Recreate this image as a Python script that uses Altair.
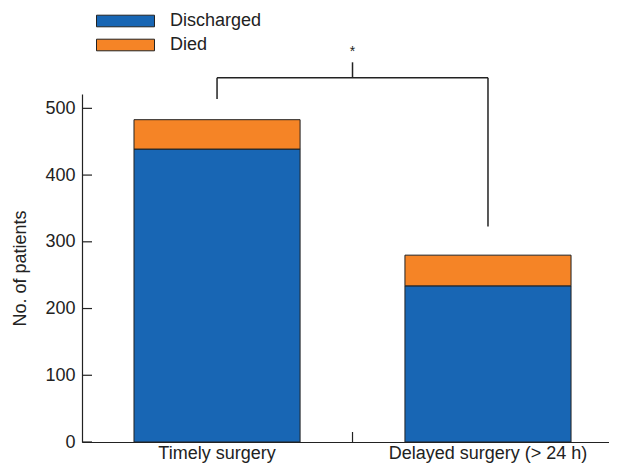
import altair as alt
import pandas as pd

# ---- data ----
categories = ["Timely surgery", "Delayed surgery (> 24 h)"]
statuses = ["Discharged", "Died"]
discharged = [439, 234]
died = [44, 46]
colors = ["#1866B4", "#F58426"]
y_ticks = [0, 100, 200, 300, 400, 500]

# significance bracket (in data units)
bracket_y = 546
bracket_left_end = 514
bracket_right_end = 323
bracket_stub_top = 569
star_y = 585
star_label = "*"

rows = []
for c, d1, d2 in zip(categories, discharged, died):
    rows.append({"cat": c, "status": statuses[0], "n": d1, "order": 0})
    rows.append({"cat": c, "status": statuses[1], "n": d2, "order": 1})
df = pd.DataFrame(rows)

W, H = 527, 348
font = "Liberation Sans"
fs = 18
ink = "#222222"

P_IN, P_OUT, ALIGN = 0.387, 0.166, 0.578
step = W / (len(categories) - P_IN + 2 * P_OUT)
half_gap = step * P_IN / 2  # offset from band end to the midpoint between bars

xscale = alt.Scale(domain=categories, paddingInner=P_IN, paddingOuter=P_OUT, align=ALIGN)
yscale = alt.Scale(domain=[0, 521.5], nice=False, zero=True)

bars = alt.Chart(df).mark_bar(stroke=ink, strokeWidth=1).encode(
    x=alt.X("cat:N", scale=xscale, sort=categories,
            axis=alt.Axis(title=None, ticks=False, labelAngle=0, labelFontSize=fs,
                          labelFont=font, labelColor=ink, labelPadding=2, labelLimit=0,
                          domainColor=ink, domainWidth=1.2, grid=False)),
    y=alt.Y("n:Q", stack="zero", scale=yscale,
            axis=alt.Axis(values=y_ticks, ticks=False, grid=False, title="No. of patients",
                          titleFontSize=fs, titleFont=font, titleFontWeight="normal",
                          titleColor=ink, titlePadding=15,
                          labelFontSize=fs, labelFont=font, labelColor=ink,
                          labelPadding=7, domainColor=ink, domainWidth=1.2)),
    color=alt.Color("status:N", scale=alt.Scale(domain=statuses, range=colors),
                    legend=alt.Legend(title=None, orient="none", legendX=31, legendY=-85.5,
                                      symbolType="M-2.5,-0.5H2.5V0.5H-2.5Z", symbolSize=538,
                                      symbolStrokeColor=ink, symbolStrokeWidth=1,
                                      symbolOpacity=1,
                                      labelFontSize=fs, labelFont=font, labelColor=ink,
                                      labelOffset=32, rowPadding=2)),
    order=alt.Order("order:Q"),
)

tick_df = pd.DataFrame({"v": y_ticks})
yticks = alt.Chart(tick_df).mark_rule(color=ink, strokeWidth=1.2).encode(
    x=alt.value(0), x2=alt.value(10), y=alt.Y("v:Q", scale=yscale)
)

mid_df = pd.DataFrame({"cat": [categories[0]], "y": [bracket_y], "ys": [bracket_stub_top],
                       "star": [star_label], "ylab": [star_y]})
xmid = alt.X("cat:N", scale=xscale, bandPosition=1)

mid_tick = alt.Chart(mid_df).mark_rule(color=ink, strokeWidth=1.2, xOffset=half_gap).encode(
    x=xmid, y=alt.value(H), y2=alt.value(H - 10)
)

h_df = pd.DataFrame({"a": [categories[0]], "b": [categories[1]], "y": [bracket_y]})
bracket_h = alt.Chart(h_df).mark_rule(color=ink, strokeWidth=1.5).encode(
    x=alt.X("a:N", scale=xscale, bandPosition=0.5),
    x2=alt.X2("b", bandPosition=0.5),
    y=alt.Y("y:Q", scale=yscale),
)

v_df = pd.DataFrame({"cat": categories, "y": [bracket_left_end, bracket_right_end],
                     "y2": [bracket_y, bracket_y]})
bracket_v = alt.Chart(v_df).mark_rule(color=ink, strokeWidth=1.5).encode(
    x=alt.X("cat:N", scale=xscale, bandPosition=0.5),
    y=alt.Y("y:Q", scale=yscale),
    y2="y2:Q",
)

stub = alt.Chart(mid_df).mark_rule(color=ink, strokeWidth=1.5, xOffset=half_gap).encode(
    x=xmid, y=alt.Y("y:Q", scale=yscale), y2="ys:Q"
)

star = alt.Chart(mid_df).mark_text(font=font, fontSize=14, color=ink, baseline="middle",
                                   xOffset=half_gap).encode(
    x=xmid, y=alt.Y("ylab:Q", scale=yscale), text="star:N"
)

chart = alt.layer(bars, yticks, mid_tick, bracket_h, bracket_v, stub, star).properties(
    width=W, height=H,
    background="white",
    autosize=alt.AutoSizeParams(type="none"),
    padding={"left": 74, "top": 86, "right": 0, "bottom": 22},
).configure_view(stroke=None, strokeWidth=0).configure_axis(grid=False)

chart.save("out.html", embed_options={"renderer": "svg", "actions": False})
